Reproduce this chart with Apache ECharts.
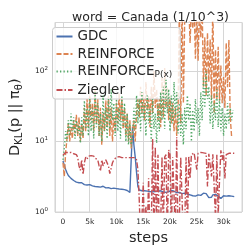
<!DOCTYPE html>
<html><head><meta charset="utf-8">
<script src="https://cdn.jsdelivr.net/npm/echarts@6/dist/echarts.min.js"></script>
<style>html,body{margin:0;padding:0;background:#fff}#c{width:251px;height:251px}</style>
</head><body><div id="c"></div>
<script>
// logging interval (training steps between recorded points)
const logEvery = 250;
const xTicks = [0, 5000, 10000, 15000, 20000, 25000, 30000];
const yTicks = [1, 10, 100];
const seriesNames = ['GDC', 'REINFORCE', 'REINFORCE_P(x)', 'Ziegler'];

const gdc = [5.3,4.6,4.0,3.6,3.3,3.1,3.0,2.9,2.8,2.75,
 2.65,2.7,2.6,2.55,2.6,2.5,2.45,2.5,2.42,2.4,
 2.45,2.38,2.35,2.4,2.3,2.35,2.28,2.3,2.25,2.3,
 2.32,2.25,2.2,2.28,2.22,2.2,2.15,2.2,2.18,2.1,
 2.15,2.2,2.12,2.18,2.1,2.05,2.08,2.0,2.02,1.95,
 1.9,1.85,16.2,9.0,6.0,3.6,2.3,2.05,2.1,2.0,
 2.05,2.0,2.08,1.98,2.0,1.95,2.02,1.93,1.98,1.95,
 1.9,1.97,1.92,2.0,1.95,1.93,1.98,1.9,2.0,1.95,
 2.0,2.02,1.92,1.97,1.9,1.88,1.85,1.9,1.85,1.82,
 1.8,1.85,1.78,1.8,1.82,1.75,1.78,1.7,1.65,1.68,
 1.7,1.75,1.8,1.72,1.78,1.85,1.9,1.82,1.75,1.6,
 1.58,1.62,1.75,1.7,1.78,1.72,1.68,1.6,1.55,1.65,
 1.7,1.72,1.68,1.75,1.7,1.72,1.68,1.7,1.65];

const reinforce = [5.0,3.2,7,11,18,10,16,11,20,13,
 24,12,22,10,18,11,30,14,40,16,
 45,20,35,14,55,18,40,12,30,9,
 25,14,38,16,45,12,30,10,22,14,
 35,18,48,20,40,15,30,12,25,10,
 20,8,14,20,10,25,40,22,60,25,
 50,20,70,28,45,16,60,25,100,30,
 55,20,40,16,80,22,110,30,60,20,
 45,18,35,14,30,12,25,900,18,900,
 35,600,900,800,900,250,900,400,900,150,
 700,140,800,300,900,60,300,45,350,70,
 280,40,900,25,200,40,220,38,120,35,
 82,30,250,59,275,22,12];

const reinforcePx = [5.5,8,14,10,20,12,25,14,22,11,
 20,13,18,9.5,22,12,38,15,30,12,
 40,14,30,11,50,16,35,12,25,10,
 45,14,30,11,40,15,55,20,35,12,
 40,14,30,11,45,16,35,10,25,9,
 18,8.5,12,30,15,45,18,40,14,50,
 20,35,12,45,18,30,10,40,15,25,
 9.5,35,14,50,20,60,15,75,25,55,
 14,45,18,70,22,50,13,35,12,25,
 9,30,15,45,20,35,10,28,14,40,
 18,30,12,50,20,80,30,100,40,60,
 18,45,15,35,20,55,16,40,14,30,
 12,25,15,35,18,30,20,28];

const ziegler = [6.4,6.8,7.0,6.9,7.0,6.8,7.0,6.9,6.7,6.8,
 6.5,6.0,4.5,3.9,5.5,3.4,5.0,6.0,5.6,6.2,
 6.0,6.3,6.0,6.2,5.8,6.0,5.5,4.5,3.8,5.5,
 4.5,5.0,5.5,5.3,4.5,3.5,3.4,5.0,5.5,5.8,
 6.0,6.2,6.1,6.0,5.9,5.9,5.9,5.9,5.9,5.9,
 5.9,5.9,5.9,5.9,5.9,5.5,4.0,1.5,0.4,0.8,
 2.6,0.4,1.2,0.5,3.0,0.4,0.6,11.0,0.4,8.4,
 0.5,6.5,0.4,0.6,6.1,0.5,6.0,6.5,0.4,7.6,
 6.5,0.4,6.0,6.2,0.5,11.5,0.4,0.8,6.0,6.1,
 0.4,0.6,6.0,0.5,6.2,3.0,6.5,6.8,6.9,6.8,
 4.0,6.8,7.0,7.0,7.0,6.9,6.9,6.8,2.3,6.7,
 6.5,3.2,6.6,6.4,0.8,6.5,0.9,2.8,7.5,5.5,
 7.0,3.0,6.5,6.8,6.8,6.9,6.8,6.8,6.8];

const colors = ['#4C72B0', '#DD8452', '#55A868', '#C44E52'];
const dashes = ['solid', [5, 2], [1.3, 2.2], [6, 2, 1.5, 2]];
const valueLists = [gdc, reinforce, reinforcePx, ziegler];

function pairs(arr) { return arr.map((v, i) => [i * logEvery, v]); }

const chart = echarts.init(document.getElementById('c'), null, {renderer: 'canvas'});
const txt = '#262626';
const gridCol = '#d6d6d6';

chart.setOption({
  animation: false,
  backgroundColor: '#fff',
  title: {
    text: 'word = Canada (1/10^3)',
    left: 145.5, top: 6, textAlign: 'center',
    textStyle: {fontFamily: 'DejaVu Sans', fontSize: 12.5, fontWeight: 'normal', color: txt}
  },
  grid: {left: 49, right: 9, top: 22.5, bottom: 39, show: true, borderColor: gridCol, borderWidth: 1, backgroundColor: '#fff'},
  legend: {
    orient: 'vertical', left: 52.5, top: 27.5,
    itemWidth: 16, itemHeight: 12, itemGap: 3.5,
    padding: [2, 8, 2, 3],
    backgroundColor: 'rgba(255,255,255,0.8)', borderColor: '#cccccc', borderWidth: 1, borderRadius: 3,
    itemStyle: {opacity: 0},
    data: seriesNames,
    formatter: function (n) { return n === 'REINFORCE_P(x)' ? 'REINFORCE{sub|P(x)}' : n; },
    textStyle: {fontFamily: 'DejaVu Sans', fontSize: 13.5, color: txt,
      rich: {sub: {fontFamily: 'DejaVu Sans', fontSize: 9, verticalAlign: 'bottom', padding: [7, 0, 0, 0], color: txt}}}
  },
  xAxis: {
    type: 'value', min: -1500, max: 33450, splitNumber: 7,
    name: 'steps', nameLocation: 'middle', nameGap: 15,
    nameTextStyle: {fontFamily: 'DejaVu Sans', fontSize: 14.5, color: txt},
    axisLine: {show: false}, axisTick: {show: false},
    splitLine: {show: true, lineStyle: {color: gridCol, width: 1}},
    axisLabel: {
      showMinLabel: false, showMaxLabel: false, margin: 6,
      fontFamily: 'DejaVu Sans', fontSize: 7.5, color: txt,
      formatter: function (v) { return xTicks.indexOf(v) < 0 ? '' : (v === 0 ? '0' : (v / 1000) + 'k'); }
    }
  },
  yAxis: {
    type: 'log', logBase: 10, min: 1, max: 488,
    name: 'D{sub|KL}(p || π{sub|θ})', nameLocation: 'middle', nameGap: 24,
    nameTextStyle: {fontFamily: 'DejaVu Sans', fontSize: 14.5, color: txt,
      rich: {sub: {fontFamily: 'DejaVu Sans', fontSize: 10, verticalAlign: 'bottom', padding: [7, 0, 0, 0], color: txt}}},
    axisLine: {show: false}, axisTick: {show: false},
    splitLine: {show: true, lineStyle: {color: gridCol, width: 1}},
    axisLabel: {
      margin: 7, showMaxLabel: false,
      fontFamily: 'DejaVu Sans', fontSize: 7.5, color: txt,
      formatter: function (v) {
        const e = Math.round(Math.log10(v));
        if (yTicks.indexOf(Math.pow(10, e)) < 0 || Math.abs(Math.log10(v) - e) > 1e-6) return '';
        return '10{s|' + e + '}';
      },
      rich: {s: {fontFamily: 'DejaVu Sans', fontSize: 5.5, verticalAlign: 'top', padding: [0, 0, 5, 0], color: txt}}
    }
  },
  series: seriesNames.map((n, k) => ({
    name: n, type: 'line', data: pairs(valueLists[k]),
    showSymbol: false, symbol: 'none', clip: true,
    lineStyle: {color: colors[k], width: 1.4, type: dashes[k]},
    itemStyle: {color: colors[k]},
    z: 2 + k
  }))
});
</script></body></html>
